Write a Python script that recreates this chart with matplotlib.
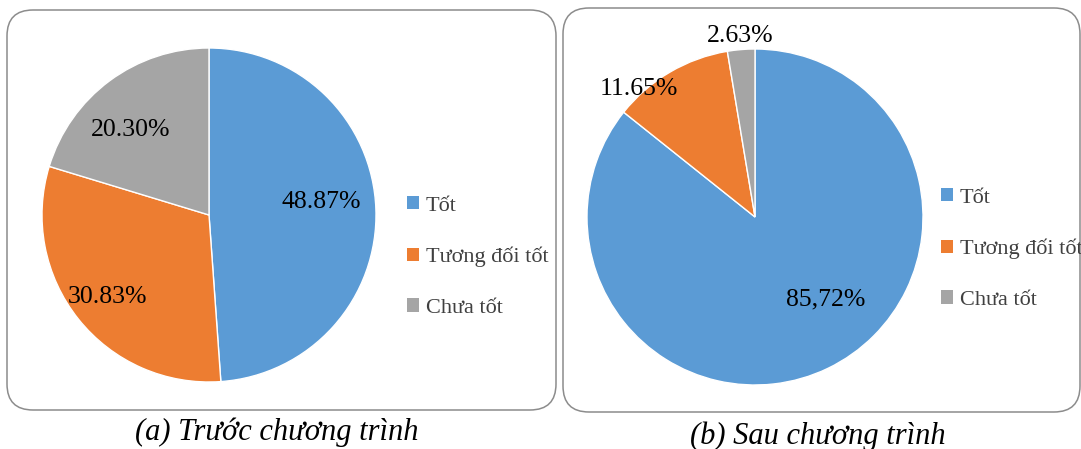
import matplotlib
matplotlib.use("Agg")
import matplotlib.pyplot as plt
from matplotlib.patches import FancyBboxPatch, Patch

categories = ["Tốt", "Tương đối tốt", "Chưa tốt"]
before_values = [48.87, 30.83, 20.30]
before_labels = ["48.87%", "30.83%", "20.30%"]
after_values = [85.72, 11.65, 2.63]
after_labels = ["85,72%", "11.65%", "2.63%"]
captions = ["(a) Trước chương trình", "(b) Sau chương trình"]
colors = ["#5B9BD5", "#ED7D31", "#A5A5A5"]

W, H = 1081, 449
plt.rcParams["font.family"] = ["Liberation Serif", "DejaVu Serif"]

fig = plt.figure(figsize=(W / 100, H / 100), dpi=100)


def px_box(x0, y0, x1, y1):
    # pixel box (top-left origin) -> figure fraction rect
    return [x0 / W, 1 - y1 / H, (x1 - x0) / W, (y1 - y0) / H]


def panel(x0, y0, x1, y1):
    # rounded frame, sizes in inches (100 px per inch)
    p = FancyBboxPatch((x0 / 100, (H - y1) / 100), (x1 - x0) / 100, (y1 - y0) / 100,
                       boxstyle="round,pad=0,rounding_size=0.26",
                       transform=fig.dpi_scale_trans, facecolor="none", edgecolor="#8c8c8c",
                       linewidth=1.1)
    fig.patches.append(p)


def draw_pie(cx, cy, rad, values, labels, label_pos):
    ax = fig.add_axes(px_box(cx - rad, cy - rad, cx + rad, cy + rad))
    ax.pie(values, colors=colors, startangle=90, counterclock=False, radius=1,
           wedgeprops=dict(edgecolor="white", linewidth=1.0))
    for lab, (x, y) in zip(labels, label_pos):
        ax.text(x, y, lab, ha="center", va="center", fontsize=18.5, color="black")
    ax.set_xlim(-1, 1)
    ax.set_ylim(-1, 1)
    ax.set_aspect("equal")
    ax.axis("off")
    return ax


panel(7, 10, 556, 410)
panel(563, 8, 1080, 412)

draw_pie(209, 215, 167, before_values, before_labels,
         [(0.67, 0.08), (-0.61, -0.49), (-0.47, 0.51)])
draw_pie(755, 217, 168, after_values, after_labels,
         [(0.42, -0.49), (-0.69, 0.76), (-0.09, 1.08)])

handles = [Patch(facecolor=c, edgecolor="none") for c in colors]
for x, y in [(387, 257), (921, 249)]:
    fig.legend(handles, categories, loc="center left", bbox_to_anchor=(x / W, 1 - y / H),
               frameon=False, fontsize=16, handlelength=0.55, handleheight=0.55,
               handletextpad=0.3, labelspacing=1.4, labelcolor="#404040")

fig.text(277 / W, 1 - 432 / H, captions[0], ha="center", va="center",
         fontsize=22, style="italic")
fig.text(818 / W, 1 - 436 / H, captions[1], ha="center", va="center",
         fontsize=22, style="italic")

fig.savefig("out.png", dpi=100)
